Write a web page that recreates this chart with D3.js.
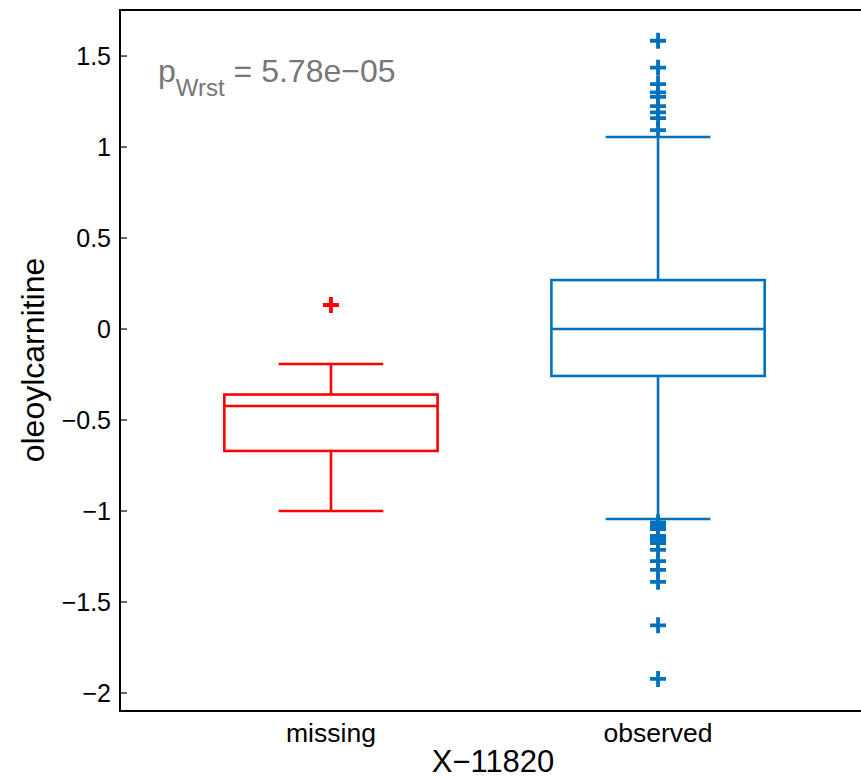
<!DOCTYPE html>
<html><head><meta charset="utf-8">
<script src="https://cdn.jsdelivr.net/npm/d3@7"></script>
<style>body{margin:0;background:#fff}svg{display:block}text{font-family:"Liberation Sans",Arial,sans-serif}</style>
</head><body>
<script>
const categories = ["missing", "observed"];
const colors = ["#ff0000", "#0072bd"];
// box stats: [lowerWhisker, q1, median, q3, upperWhisker]
const boxMissing = [-1.0, -0.670, -0.423, -0.360, -0.192];
const boxObserved = [-1.044, -0.258, 0.0, 0.269, 1.055];
const outliersMissing = [0.132];
const outliersObserved = [1.584, 1.436, 1.346, 1.30, 1.276, 1.225, 1.19, 1.159, 1.093,
  -1.062, -1.08, -1.099, -1.137, -1.15, -1.159, -1.176, -1.214, -1.275, -1.324, -1.389, -1.628, -1.923];
const yTicks = [-2, -1.5, -1, -0.5, 0, 0.5, 1, 1.5];
const xLabel = "X\u221211820";
const yLabel = "oleoylcarnitine";
const pText = ["p", "Wrst", " = 5.78e\u221205"];

const W = 861, H = 780;
const m = {left: 120, top: 10, right: 869, bottom: 711};
const svg = d3.select("body").append("svg").attr("width", W).attr("height", H);

const x = d3.scaleLinear().domain([0.355, 2.645]).range([m.left, m.right]);
const y = d3.scaleLinear().domain([-2.099, 1.753]).range([m.bottom, m.top]);

const boxes = [boxMissing, boxObserved];
const outs = [outliersMissing, outliersObserved];
const boxHalf = 0.326, capHalf = 0.16;

boxes.forEach((b, i) => {
  const c = i + 1, col = colors[i];
  const g = svg.append("g").attr("stroke", col).attr("stroke-width", 2.6).attr("fill", "none");
  g.append("line").attr("x1", x(c)).attr("x2", x(c)).attr("y1", y(b[3])).attr("y2", y(b[4]));
  g.append("line").attr("x1", x(c)).attr("x2", x(c)).attr("y1", y(b[0])).attr("y2", y(b[1]));
  g.append("line").attr("x1", x(c - capHalf)).attr("x2", x(c + capHalf)).attr("y1", y(b[4])).attr("y2", y(b[4]));
  g.append("line").attr("x1", x(c - capHalf)).attr("x2", x(c + capHalf)).attr("y1", y(b[0])).attr("y2", y(b[0]));
  g.append("rect").attr("x", x(c - boxHalf)).attr("y", y(b[3]))
    .attr("width", x(c + boxHalf) - x(c - boxHalf)).attr("height", y(b[1]) - y(b[3]));
  g.append("line").attr("x1", x(c - boxHalf)).attr("x2", x(c + boxHalf)).attr("y1", y(b[2])).attr("y2", y(b[2]));
  const s = 8;
  outs[i].forEach(v => {
    g.append("path").attr("stroke-width", 3.8)
      .attr("d", `M${x(c) - s},${y(v)}H${x(c) + s}M${x(c)},${y(v) - s}V${y(v) + s}`);
  });
});

const ax = svg.append("g").attr("stroke", "#000").attr("stroke-width", 2);
ax.append("line").attr("x1", m.left).attr("x2", m.right).attr("y1", m.top).attr("y2", m.top);
ax.append("line").attr("x1", m.left).attr("x2", m.right).attr("y1", m.bottom).attr("y2", m.bottom);
ax.append("line").attr("x1", m.left).attr("x2", m.left).attr("y1", m.top - 1).attr("y2", m.bottom + 1);

const fmt = v => String(v).replace("-", "\u2212");
yTicks.forEach(t => {
  svg.append("line").attr("x1", m.left).attr("x2", m.left + 7).attr("y1", y(t)).attr("y2", y(t))
    .attr("stroke", "#000").attr("stroke-width", 1.2);
  svg.append("text").attr("x", m.left - 9).attr("y", y(t)).attr("dy", "0.36em")
    .attr("text-anchor", "end").attr("font-size", 25).attr("fill", "#000").text(fmt(t));
});

categories.forEach((c, i) => {
  svg.append("text").attr("x", x(i + 1)).attr("y", 742).attr("text-anchor", "middle")
    .attr("font-size", 26.5).attr("fill", "#000").text(c);
});
svg.append("text").attr("x", 493).attr("y", 772).attr("text-anchor", "middle")
  .attr("font-size", 31).attr("fill", "#000").text(xLabel);
svg.append("text").attr("transform", `translate(44,360) rotate(-90)`)
  .attr("text-anchor", "middle").attr("font-size", 32).attr("fill", "#000").text(yLabel);

const pt = svg.append("text").attr("x", 158).attr("y", 82).attr("font-size", 32).attr("fill", "#777777");
pt.append("tspan").text(pText[0]);
pt.append("tspan").attr("dy", 14).attr("font-size", 24).text(pText[1]);
pt.append("tspan").attr("dy", -14).text(pText[2]);
</script>
</body></html>
